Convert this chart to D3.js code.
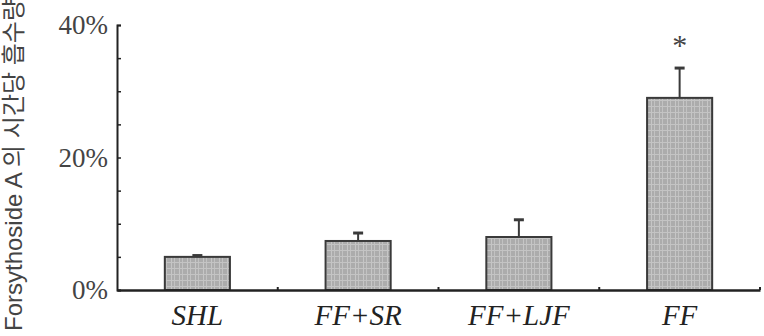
<!DOCTYPE html>
<html>
<head>
<meta charset="utf-8">
<script src="https://cdn.jsdelivr.net/npm/d3@7"></script>
<style>
  body { margin: 0; background: #fff; }
  svg { display: block; }
  .serif { font-family: "Liberation Serif", "Times New Roman", serif; }
</style>
</head>
<body>
<svg id="chart" width="764" height="336"></svg>
<script>
// data (percent)
const categories = ["SHL", "FF+SR", "FF+LJF", "FF"]
const means = [5.0, 7.4, 8.0, 29.0]
const errors = [0.2, 1.2, 2.6, 4.5]
const marks = ["", "", "", "*"]
const majorTicks = [0, 20, 40]
const minorTicks = [0, 5, 10, 15, 20, 25, 30, 35, 40]
const yTitle = "Forsythoside  A 의 시간당 흡수량"

const svg = d3.select("#chart")
const plotLeft = 117, plotRight = 760, plotTop = 25, plotBottom = 290

// scanned-looking gray texture for the bars
const pat = svg.append("defs").append("pattern")
  .attr("id", "grain")
  .attr("patternUnits", "userSpaceOnUse")
  .attr("width", 8).attr("height", 6)
pat.append("rect").attr("width", 8).attr("height", 6).attr("fill", "#acacac")
pat.append("rect").attr("x", 3).attr("width", 1).attr("height", 6).attr("fill", "#c6c6c6")
pat.append("rect").attr("x", 6).attr("width", 1).attr("height", 6).attr("fill", "#c2c2c2")
pat.append("rect").attr("y", 4).attr("width", 8).attr("height", 1).attr("fill", "#c4c4c4")

const y = d3.scaleLinear().domain([0, 40]).range([plotBottom, plotTop])
const xCell = d3.scaleBand().domain(categories).range([plotLeft, plotRight])
const x = d3.scaleBand().domain(categories).range([plotLeft, plotRight])
  .paddingInner(0.595).paddingOuter(0.2975)

const rows = categories.map((c, i) => ({ cat: c, mean: means[i], err: errors[i], mark: marks[i] }))

// bars
svg.append("g").selectAll("rect").data(rows).join("rect")
  .attr("x", d => x(d.cat))
  .attr("y", d => y(d.mean))
  .attr("width", x.bandwidth())
  .attr("height", d => y(0) - y(d.mean))
  .attr("fill", "url(#grain)")
  .attr("stroke", "#3a3a3a")
  .attr("stroke-width", 2)

// error bars (upper only)
const eb = svg.append("g").attr("stroke", "#3a3a3a")
eb.selectAll("line.stem").data(rows).join("line")
  .attr("class", "stem")
  .attr("x1", d => x(d.cat) + x.bandwidth() / 2)
  .attr("x2", d => x(d.cat) + x.bandwidth() / 2)
  .attr("y1", d => y(d.mean))
  .attr("y2", d => y(d.mean + d.err))
  .attr("stroke-width", 2)
eb.selectAll("line.cap").data(rows).join("line")
  .attr("class", "cap")
  .attr("x1", d => x(d.cat) + x.bandwidth() / 2 - 5)
  .attr("x2", d => x(d.cat) + x.bandwidth() / 2 + 5)
  .attr("y1", d => y(d.mean + d.err))
  .attr("y2", d => y(d.mean + d.err))
  .attr("stroke-width", 3)

// significance marks
svg.append("g").selectAll("text").data(rows.filter(d => d.mark)).join("text")
  .attr("class", "serif")
  .attr("x", d => x(d.cat) + x.bandwidth() / 2)
  .attr("y", d => y(d.mean + d.err) - 13)
  .attr("text-anchor", "middle")
  .attr("font-size", 30)
  .attr("fill", "#444")
  .text(d => d.mark)

// y axis: minor ticks pointing inward
const yMinor = svg.append("g")
  .attr("transform", `translate(${plotLeft},0)`)
  .call(d3.axisRight(y).tickValues(minorTicks).tickSize(4).tickFormat(""))
yMinor.select(".domain").attr("stroke", "#222").attr("stroke-width", 2)
yMinor.selectAll(".tick line").attr("stroke", "#222").attr("stroke-width", 1.5)

// y axis labels
const yLab = svg.append("g")
  .attr("transform", `translate(${plotLeft},0)`)
  .call(d3.axisLeft(y).tickValues(majorTicks).tickSize(0).tickPadding(9).tickFormat(d => d + "%"))
yLab.attr("font-family", null)
yLab.select(".domain").remove()
yLab.selectAll("text")
  .attr("class", "serif")
  .attr("font-size", 27)
  .attr("fill", "#444")

// x axis
const xAx = svg.append("g")
  .attr("transform", `translate(0,${plotBottom})`)
  .call(d3.axisBottom(x).tickSize(0).tickPadding(14))
xAx.attr("font-family", null)
xAx.select(".domain").attr("stroke", "#222").attr("stroke-width", 2.5)
xAx.selectAll("text")
  .attr("class", "serif")
  .attr("font-style", "italic")
  .attr("font-size", 29)
  .attr("fill", "#222")
  .attr("dy", "0.71em")

// small category boundary ticks
svg.append("g").selectAll("line").data(categories).join("line")
  .attr("x1", d => xCell(d) + xCell.bandwidth())
  .attr("x2", d => xCell(d) + xCell.bandwidth())
  .attr("y1", plotBottom)
  .attr("y2", plotBottom - 3)
  .attr("stroke", "#222")
  .attr("stroke-width", 2)

// y axis title (runs off the top like the original)
svg.append("text")
  .attr("transform", "translate(22,331) rotate(-90)")
  .attr("font-family", "'Liberation Sans', 'Noto Sans CJK KR', sans-serif")
  .attr("font-size", 24)
  .attr("fill", "#444")
  .text(yTitle)
</script>
</body>
</html>
